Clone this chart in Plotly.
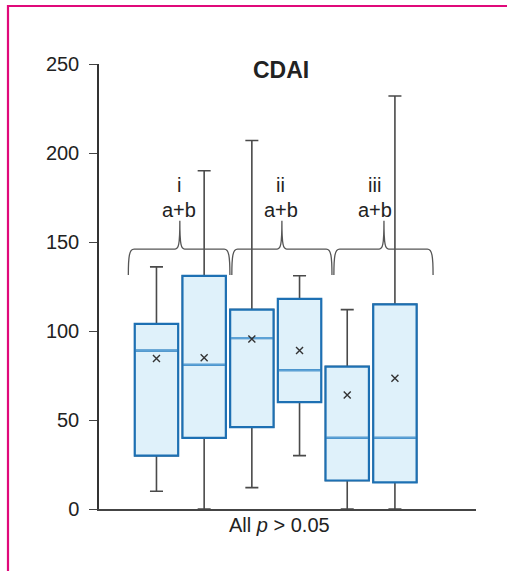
import plotly.graph_objects as go

# ---- data ----
positions = [1, 2, 3, 4, 5, 6]
lower_whisker = [10, 0, 12, 30, 0, 0]
q1_values = [30, 40, 46, 60, 16, 15]
median_values = [89, 81, 96, 78, 40, 40]
q3_values = [104, 131, 112, 118, 80, 115]
upper_whisker = [136, 190, 207, 131, 112, 232]
mean_values = [84.5, 85, 95.5, 89, 64, 73.5]

group_labels = ["i", "ii", "iii"]
group_sub = ["a+b", "a+b", "a+b"]
y_ticks = [0, 50, 100, 150, 200, 250]

# ---- style ----
FONT = "Liberation Sans, Arial, Helvetica, sans-serif"
BOX_W = 0.91
FILL = "#dff1fa"
BLUE = "#1d70b3"
MED = "#5ca2d6"
GREY = "#4a4a4a"

fig = go.Figure()

# whiskers (grey) drawn by a box trace
fig.add_trace(go.Box(
    x=positions, q1=q1_values, median=median_values, q3=q3_values,
    lowerfence=lower_whisker, upperfence=upper_whisker,
    width=BOX_W, whiskerwidth=0.3, fillcolor=FILL,
    line=dict(color=GREY, width=1.6), boxpoints=False,
    showlegend=False, hoverinfo="skip"))

# boxes (blue) on top
fig.add_trace(go.Box(
    x=positions, q1=q1_values, median=median_values, q3=q3_values,
    lowerfence=q1_values, upperfence=q3_values,
    width=BOX_W, whiskerwidth=0, fillcolor=FILL,
    line=dict(color=BLUE, width=2.2), boxpoints=False,
    showlegend=False, hoverinfo="skip"))

# lighter median lines
mx, my = [], []
for p, m in zip(positions, median_values):
    mx += [p - BOX_W / 2 + 0.02, p + BOX_W / 2 - 0.02, None]
    my += [m, m, None]
fig.add_trace(go.Scatter(x=mx, y=my, mode="lines",
                         line=dict(color=MED, width=2),
                         showlegend=False, hoverinfo="skip"))

# means
fig.add_trace(go.Scatter(x=positions, y=mean_values, mode="markers",
                         marker=dict(symbol="x-thin", size=7,
                                     line=dict(color="#333333", width=1.4)),
                         showlegend=False, hoverinfo="skip"))

# braces
brace_spans = [(0.41, 1.49, 2.54), (2.58, 3.63, 4.68), (4.72, 5.77, 6.80)]
label_x = [1.47, 3.61, 5.58]
y_end, y_bar, y_peak = 131.5, 146, 162
shapes = []
for x0, xp, x1 in brace_spans:
    path = (f"M {x0},{y_end} C {x0},{y_bar-4} {x0+0.02},{y_bar} {x0+0.12},{y_bar} "
            f"L {xp-0.1},{y_bar} C {xp-0.03},{y_bar} {xp},{y_bar+2} {xp},{y_peak} "
            f"C {xp},{y_bar+2} {xp+0.03},{y_bar} {xp+0.1},{y_bar} "
            f"L {x1-0.12},{y_bar} C {x1-0.02},{y_bar} {x1},{y_bar-4} {x1},{y_end}")
    shapes.append(dict(type="path", path=path, xref="x", yref="y",
                       line=dict(color="#555555", width=1.3)))

# magenta frame (left and top edges visible)
shapes.append(dict(type="rect", xref="paper", yref="paper",
                   x0=-0.2414, x1=2.0, y0=-1.0, y1=1.1303,
                   line=dict(color="#e0097a", width=2.2), layer="below"))

annotations = []
for lx, t, s in zip(label_x, group_labels, group_sub):
    annotations.append(dict(x=lx, y=182, xref="x", yref="y", text=t, showarrow=False,
                            font=dict(family=FONT, size=20, color="#222222")))
    annotations.append(dict(x=lx, y=168, xref="x", yref="y", text=s, showarrow=False,
                            font=dict(family=FONT, size=20, color="#222222")))

annotations.append(dict(x=0.483, y=1.02, xref="paper", yref="paper", text="<b>CDAI</b>",
                        showarrow=False, font=dict(family=FONT, size=23, color="#222222")))
annotations.append(dict(x=0.48, y=-0.036, xref="paper", yref="paper",
                        text="All <i>p</i> &gt; 0.05", showarrow=False,
                        yanchor="middle",
                        font=dict(family=FONT, size=20, color="#222222")))

fig.update_layout(
    width=507, height=571,
    margin=dict(l=99, r=31, t=64, b=62),
    paper_bgcolor="white", plot_bgcolor="white",
    shapes=shapes, annotations=annotations,
    xaxis=dict(range=[-0.205, 7.70], showticklabels=False, ticks="",
               showgrid=False, zeroline=False, showline=True,
               linecolor="#444444", linewidth=2),
    yaxis=dict(range=[0, 250], tickvals=y_ticks, ticks="outside", ticklen=8,
               tickcolor="#444444", tickwidth=1.2, showgrid=False, zeroline=False,
               showline=True, linecolor="#333333", linewidth=1.5,
               tickfont=dict(family=FONT, size=20, color="#222222"),
               ticklabelstandoff=6),
)

fig.write_html("out.html",
               config={"displayModeBar": False},
               post_script="document.body.style.margin='0';"
                           "document.body.style.overflow='hidden';")
